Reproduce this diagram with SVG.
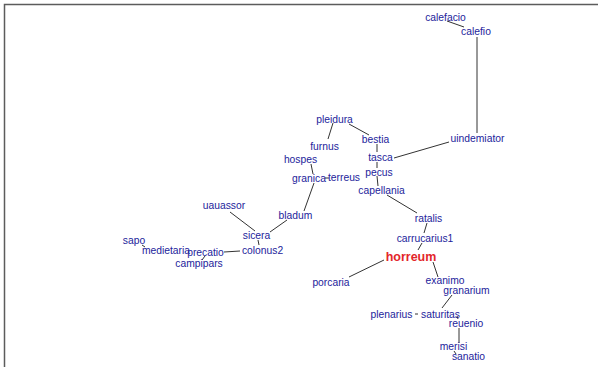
<svg xmlns="http://www.w3.org/2000/svg" width="599" height="367" viewBox="0 0 599 367">
<style>
.n text{font-family:"Liberation Sans",Arial,sans-serif;font-size:10.3px;fill:#23239b;text-anchor:middle}
#horreum text{font-size:12.5px;font-weight:bold;fill:#e3262a}
#edges line{stroke:#333;stroke-width:1}
</style>
<rect x="0" y="0" width="599" height="367" fill="#fff"/>
<path d="M4.5 367V4.5H598" fill="none" stroke="#5c5c5c" stroke-width="1.5"/>
<g id="edges">
<line x1="447" y1="21" x2="464" y2="27"/>
<line x1="477" y1="37" x2="477" y2="133"/>
<line x1="394" y1="158" x2="449" y2="142"/>
<line x1="377" y1="144" x2="377" y2="152"/>
<line x1="349" y1="124" x2="369" y2="135"/>
<line x1="333" y1="123" x2="328" y2="139"/>
<line x1="311" y1="164" x2="313" y2="174"/>
<line x1="325" y1="178" x2="329" y2="178"/>
<line x1="314" y1="183" x2="304" y2="211"/>
<line x1="270" y1="232" x2="287" y2="220"/>
<line x1="230" y1="212" x2="255" y2="231"/>
<line x1="258" y1="240" x2="259" y2="245"/>
<line x1="224" y1="252" x2="240" y2="251"/>
<line x1="205" y1="256" x2="202" y2="260"/>
<line x1="142" y1="245" x2="145" y2="247"/>
<line x1="377" y1="162" x2="377" y2="168"/>
<line x1="377" y1="176" x2="378" y2="186"/>
<line x1="387" y1="195" x2="417" y2="213"/>
<line x1="427" y1="223" x2="424" y2="233"/>
<line x1="422" y1="243" x2="418" y2="250"/>
<line x1="384" y1="260" x2="349" y2="277"/>
<line x1="433" y1="262" x2="438" y2="277"/>
<line x1="452" y1="295" x2="442" y2="308"/>
<line x1="415" y1="314" x2="418" y2="314"/>
<line x1="457" y1="316" x2="458" y2="319"/>
<line x1="459" y1="328" x2="459" y2="343"/>
<line x1="454" y1="351" x2="456" y2="354"/>
</g>
<g class="n" id="calefacio"><text x="445.5" y="20.5">calefacio</text></g>
<g class="n" id="calefio"><text x="476" y="34.5">calefio</text></g>
<g class="n" id="uindemiator"><text x="477.5" y="142">uindemiator</text></g>
<g class="n" id="pleidura"><text x="334.5" y="122.5">pleidura</text></g>
<g class="n" id="bestia"><text x="375.5" y="142.5">bestia</text></g>
<g class="n" id="furnus"><text x="324.5" y="149.5">furnus</text></g>
<g class="n" id="hospes"><text x="300.5" y="163">hospes</text></g>
<g class="n" id="tasca"><text x="380.5" y="161">tasca</text></g>
<g class="n" id="pecus"><text x="379" y="176">pecus</text></g>
<g class="n" id="granica"><text x="309" y="182">granica</text></g>
<g class="n" id="terreus"><text x="344" y="180.5">terreus</text></g>
<g class="n" id="capellania"><text x="381.5" y="194">capellania</text></g>
<g class="n" id="uauassor"><text x="224" y="209">uauassor</text></g>
<g class="n" id="bladum"><text x="295.5" y="219">bladum</text></g>
<g class="n" id="ratalis"><text x="428.5" y="222">ratalis</text></g>
<g class="n" id="sicera"><text x="256.5" y="239">sicera</text></g>
<g class="n" id="carrucarius1"><text x="425" y="242">carrucarius1</text></g>
<g class="n" id="sapo"><text x="134" y="244">sapo</text></g>
<g class="n" id="medietaria"><text x="166" y="253.5">medietaria</text></g>
<g class="n" id="precatio"><text x="205.5" y="256">precatio</text></g>
<g class="n" id="colonus2"><text x="262.5" y="254">colonus2</text></g>
<g class="n" id="horreum"><text x="411" y="261">horreum</text></g>
<g class="n" id="campipars"><text x="199" y="266.5">campipars</text></g>
<g class="n" id="porcaria"><text x="331" y="285.5">porcaria</text></g>
<g class="n" id="exanimo"><text x="445" y="284">exanimo</text></g>
<g class="n" id="granarium"><text x="466.5" y="294">granarium</text></g>
<g class="n" id="plenarius"><text x="391.5" y="317.5">plenarius</text></g>
<g class="n" id="saturitas"><text x="440.5" y="317.5">saturitas</text></g>
<g class="n" id="reuenio"><text x="466" y="326.5">reuenio</text></g>
<g class="n" id="merisi"><text x="453.5" y="350">merisi</text></g>
<g class="n" id="sanatio"><text x="468.5" y="360">sanatio</text></g>
</svg>
